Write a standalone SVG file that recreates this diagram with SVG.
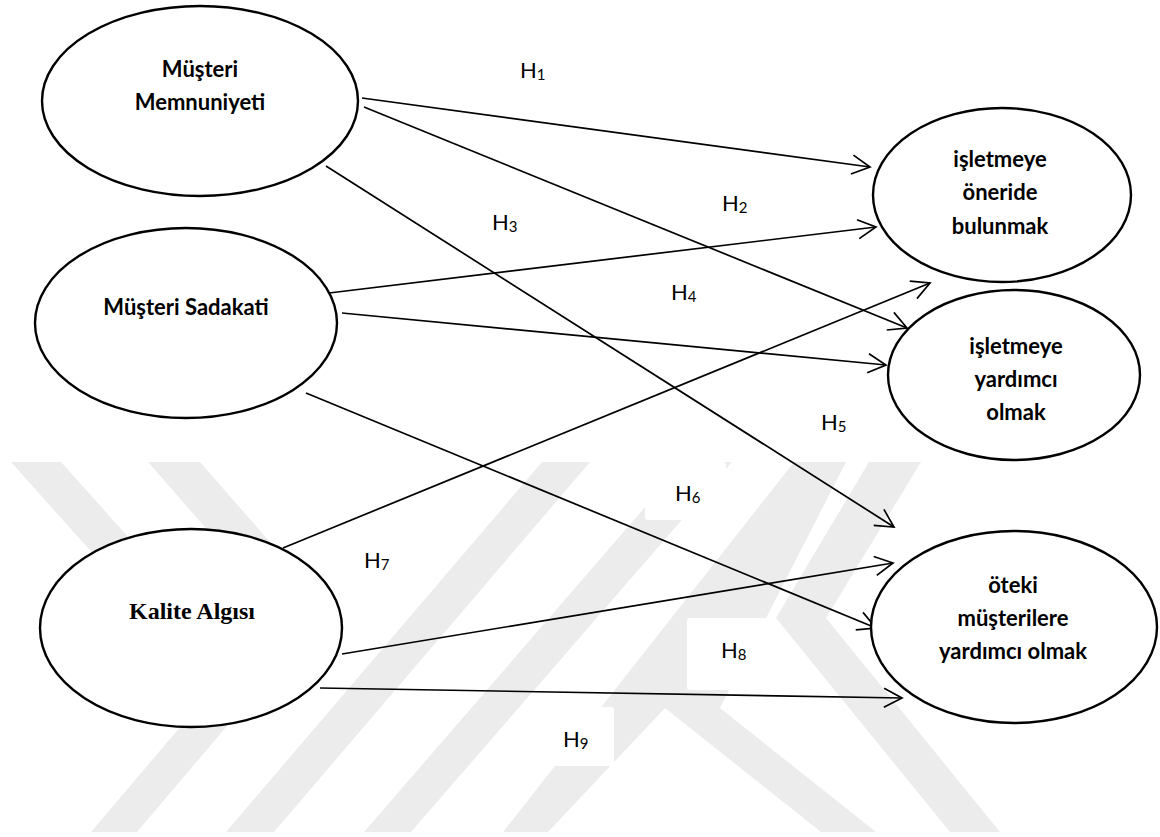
<svg xmlns="http://www.w3.org/2000/svg" width="1160" height="837" viewBox="0 0 1160 837">
<style>
.node{fill:#fff;stroke:#000;stroke-width:2.4}
.t{font-family:Lato,"Open Sans","Liberation Sans",sans-serif;font-weight:bold;font-size:22px;text-anchor:middle;fill:#000}
.ts{font-family:"Liberation Serif","Times New Roman",serif;font-weight:bold;font-size:24px;text-anchor:middle;fill:#000}
.h{font-family:Lato,"Open Sans","Liberation Sans",sans-serif;font-size:22px;fill:#000}
.sub{font-size:15px}
.edge{fill:none;stroke:#000;stroke-width:1.7}
.wm{fill:#ececec}
.box{fill:#fff}
</style>
<defs>
<marker id="arr" markerUnits="userSpaceOnUse" markerWidth="22" markerHeight="22" viewBox="0 0 22 22" refX="19" refY="11" orient="auto">
<path d="M1,1.5 L19,11 L1,20.5" fill="none" stroke="#000" stroke-width="1.7"/>
</marker>
</defs>
<rect width="1160" height="837" fill="#fff"/>
<g id="watermark">
<polygon class="wm" points="11,462 61,462 240,662 190,662"/>
<polygon class="wm" points="148,462 200,462 345,628 293,628"/>
<polygon class="wm" points="91,832 137,832 300,640 254,640"/>
<polygon class="wm" points="226,832 274,832 590,462 542,462"/>
<polygon class="wm" points="364,832 411,832 732,462 684,462"/>
<polygon class="wm" points="503,832 548,832 665,708 720,708 846,462 794,462"/>
<polygon class="wm" points="665,708 720,708 876,832 821,832"/>
<polygon class="wm" points="869,462 921,462 826,618 776,618"/>
<polygon class="wm" points="776,618 826,618 1000,832 950,832"/>
</g>
<g id="labelboxes">
<rect class="box" x="645" y="462" width="81" height="58" rx="3"/>
<rect class="box" x="345" y="527" width="72" height="60" rx="3"/>
<rect class="box" x="687" y="618" width="89" height="72" rx="3"/>
<rect class="box" x="534" y="707" width="80" height="59" rx="3"/>
</g>
<g id="connectors">
<line class="edge" x1="362" y1="98" x2="870" y2="167" marker-end="url(#arr)"/>
<line class="edge" x1="364" y1="107" x2="907" y2="328" marker-end="url(#arr)"/>
<line class="edge" x1="326" y1="166" x2="894" y2="527" marker-end="url(#arr)"/>
<line class="edge" x1="329" y1="293" x2="876" y2="227" marker-end="url(#arr)"/>
<line class="edge" x1="342" y1="313" x2="886" y2="365" marker-end="url(#arr)"/>
<line class="edge" x1="306" y1="393" x2="876" y2="628" marker-end="url(#arr)"/>
<line class="edge" x1="283" y1="548" x2="930" y2="283" marker-end="url(#arr)"/>
<line class="edge" x1="342" y1="654" x2="893" y2="563" marker-end="url(#arr)"/>
<line class="edge" x1="320" y1="688" x2="902" y2="698" marker-end="url(#arr)"/>
</g>
<g id="labels">
<text class="h" x="520" y="78">H<tspan class="sub" dy="2">1</tspan></text>
<text class="h" x="722" y="211">H<tspan class="sub" dy="2">2</tspan></text>
<text class="h" x="492" y="230">H<tspan class="sub" dy="2">3</tspan></text>
<text class="h" x="671" y="300">H<tspan class="sub" dy="2">4</tspan></text>
<text class="h" x="821" y="430">H<tspan class="sub" dy="2">5</tspan></text>
<text class="h" x="675" y="501">H<tspan class="sub" dy="2">6</tspan></text>
<text class="h" x="364" y="568">H<tspan class="sub" dy="2">7</tspan></text>
<text class="h" x="721" y="658">H<tspan class="sub" dy="2">8</tspan></text>
<text class="h" x="563" y="747">H<tspan class="sub" dy="2">9</tspan></text>
</g>
<g id="n-memnuniyet">
<ellipse class="node" cx="200" cy="101" rx="158" ry="95"/>
<text class="t" x="200" y="77">Müşteri</text>
<text class="t" x="200" y="110">Memnuniyeti</text>
</g>
<g id="n-sadakat">
<ellipse class="node" cx="186" cy="323" rx="151" ry="95"/>
<text class="t" x="186" y="315">Müşteri Sadakati</text>
</g>
<g id="n-kalite">
<ellipse class="node" cx="191" cy="628" rx="151" ry="99"/>
<text class="ts" x="192" y="619">Kalite Algısı</text>
</g>
<g id="n-oneri">
<ellipse class="node" cx="1002" cy="195" rx="129" ry="87"/>
<text class="t" x="1000" y="167">işletmeye</text>
<text class="t" x="1000" y="200">öneride</text>
<text class="t" x="1000" y="234">bulunmak</text>
</g>
<g id="n-yardim">
<ellipse class="node" cx="1014" cy="375" rx="126" ry="85"/>
<text class="t" x="1016" y="354">işletmeye</text>
<text class="t" x="1016" y="387">yardımcı</text>
<text class="t" x="1016" y="420">olmak</text>
</g>
<g id="n-oteki">
<ellipse class="node" cx="1014" cy="627" rx="143" ry="96"/>
<text class="t" x="1013" y="593">öteki</text>
<text class="t" x="1013" y="626">müşterilere</text>
<text class="t" x="1013" y="659">yardımcı olmak</text>
</g>
</svg>
